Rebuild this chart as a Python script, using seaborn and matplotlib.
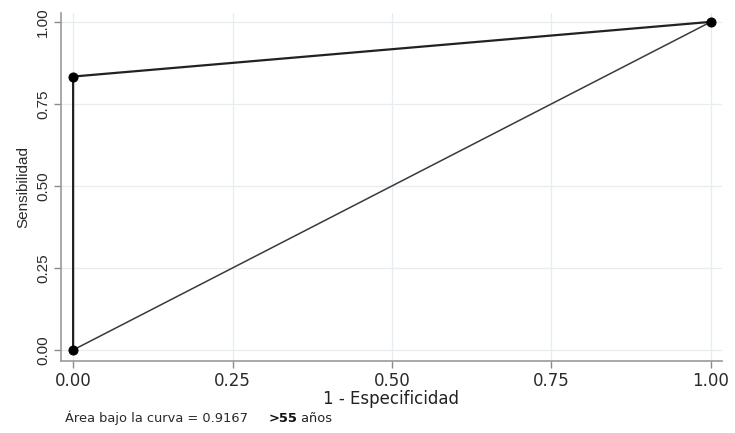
import matplotlib
matplotlib.use("Agg")
import matplotlib.pyplot as plt
import seaborn as sns
import pandas as pd

# ROC points (1 - specificity, sensitivity)
fpr = [0.0, 0.0, 1.0]
tpr = [0.0, 0.8333, 1.0]
ref_x = [0.0, 1.0]
ref_y = [0.0, 1.0]
ticks = [0.00, 0.25, 0.50, 0.75, 1.00]
tick_labels = ["0.00", "0.25", "0.50", "0.75", "1.00"]
auc_text = "Área bajo la curva = 0.9167"
group_bold = ">55"
group_rest = " años"

sns.set_theme(style="white")
plt.rcParams["font.family"] = ["Liberation Sans", "DejaVu Sans"]

fig = plt.figure(figsize=(7.35, 4.33), dpi=100)
ax = fig.add_axes([0.083, 0.166, 0.899, 0.804])

roc = pd.DataFrame({"fpr": fpr, "tpr": tpr})
ref = pd.DataFrame({"x": ref_x, "y": ref_y})

sns.lineplot(data=ref, x="x", y="y", sort=False, estimator=None,
             color="#3a3a3a", lw=1.1, ax=ax)
sns.lineplot(data=roc, x="fpr", y="tpr", sort=False, estimator=None,
             color="#222222", lw=1.6, marker="o", markersize=6.5,
             markerfacecolor="black", markeredgecolor="black", ax=ax)

ax.set_xlim(-0.019, 1.017)
ax.set_ylim(-0.034, 1.027)
ax.set_xticks(ticks)
ax.set_xticklabels(tick_labels, family=["DejaVu Sans"], fontsize=12)
ax.set_yticks(ticks)
ax.set_yticklabels(tick_labels, rotation=90, va="center", fontsize=11)

ax.grid(True, color="#e6ecef", lw=0.9)
ax.set_axisbelow(True)

for side in ["top", "right"]:
    ax.spines[side].set_visible(False)
for side in ["left", "bottom"]:
    ax.spines[side].set_color("#999999")
    ax.spines[side].set_linewidth(1.2)

ax.tick_params(axis="both", which="major", direction="out", length=5,
               width=1, color="#8a8a8a", labelcolor="#2a2a2a",
               bottom=True, left=True, pad=3)

ax.set_xlabel("1 - Especificidad", fontsize=12, color="#222222", labelpad=0,
              family=["DejaVu Sans"])
ax.set_ylabel("Sensibilidad", fontsize=11, color="#2a2a2a", labelpad=4)

fig.text(0.088, 0.026, auc_text, fontsize=9.4, color="#2a2a2a",
         family=["DejaVu Sans"])
t1 = fig.text(0.365, 0.026, group_bold, fontsize=9.4, color="#111111",
              family=["DejaVu Sans"], fontweight="bold")
fig.add_artist(matplotlib.text.Annotation(
    group_rest, xy=(1, 0), xycoords=t1, va="bottom", ha="left",
    fontsize=9.4, color="#222222", family=["DejaVu Sans"]))

fig.savefig("out.png", dpi=100)
